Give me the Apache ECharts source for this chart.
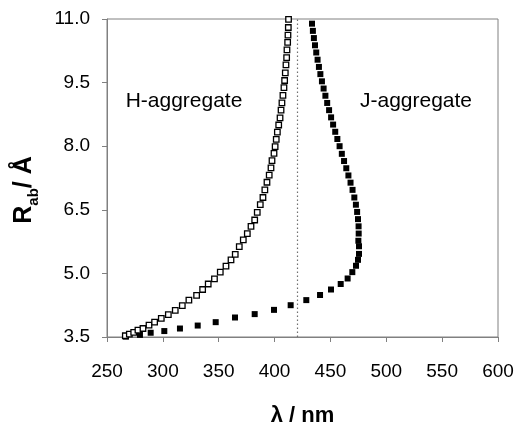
<!DOCTYPE html>
<html>
<head>
<meta charset="utf-8">
<script src="https://cdn.jsdelivr.net/npm/echarts@6/dist/echarts.min.js"></script>
<style>
html,body{margin:0;padding:0;background:#fff;}
#c{width:516px;height:426px;}
</style>
</head>
<body>
<div id="c"></div>
<script>
// H-aggregate (open squares)
var hLambda = [266.4,270.0,273.9,277.7,282.2,287.6,292.6,298.6,304.9,311.1,317.4,323.3,330.2,335.6,340.6,346.2,351.4,356.5,361.0,364.8,368.4,372.0,375.6,378.9,382.2,384.5,387.2,389.6,391.3,393.2,395.2,396.8,397.7,399.5,400.5,401.5,402.5,403.7,404.9,405.8,406.6,407.5,408.4,409.0,409.6,410.2,410.8,411.1,411.7,412.0,412.3,412.5];
var hR = [3.53,3.57,3.61,3.66,3.70,3.78,3.85,3.94,4.03,4.13,4.24,4.37,4.48,4.62,4.75,4.87,5.03,5.17,5.32,5.45,5.63,5.79,5.94,6.11,6.26,6.44,6.62,6.79,6.97,7.15,7.32,7.49,7.66,7.83,7.99,8.16,8.33,8.50,8.67,8.85,9.02,9.20,9.38,9.55,9.73,9.92,10.09,10.27,10.45,10.62,10.80,10.99];
// J-aggregate (filled squares)
var jLambda = [267.0,279.5,289.1,301.3,315.3,331.2,347.3,364.6,382.2,399.5,414.4,428.4,440.7,450.5,459.2,465.4,469.6,472.9,474.7,475.6,475.6,475.0,475.3,475.2,474.7,473.9,472.8,471.4,469.8,468.0,466.1,464.2,462.2,460.2,458.2,456.2,454.3,452.4,450.6,448.8,447.1,445.5,443.9,442.4,441.0,439.7,438.5,437.3,436.2,435.2,434.3,433.5];
var jR = [3.51,3.55,3.60,3.64,3.70,3.77,3.85,3.96,4.04,4.14,4.25,4.37,4.49,4.62,4.75,4.88,5.03,5.18,5.32,5.46,5.64,5.77,5.94,6.11,6.28,6.45,6.62,6.79,6.97,7.14,7.31,7.48,7.65,7.82,8.00,8.17,8.34,8.51,8.68,8.85,9.02,9.19,9.36,9.53,9.70,9.87,10.04,10.21,10.38,10.55,10.72,10.89];
var xTicks = [250,300,350,400,450,500,550,600];
var yTicks = [3.5,5.0,6.5,8.0,9.5,11.0];
var refLambda = 420;
var labelH = 'H-aggregate';
var labelJ = 'J-aggregate';

function zip(a,b){ return a.map(function(v,i){ return [v,b[i]]; }); }

var chart = echarts.init(document.getElementById('c'), null, {renderer:'canvas'});
var axisColor = '#808080';
var font = 'Arial, "Liberation Sans", sans-serif';
chart.setOption({
  animation:false,
  backgroundColor:'#fff',
  grid:{left:107, top:19, width:391, height:318, show:true, borderColor:axisColor, borderWidth:1,
    containLabel:false, outerBoundsMode:'none'},
  xAxis:{
    type:'value', min:xTicks[0], max:xTicks[xTicks.length-1], interval:50,
    axisLine:{show:true, onZero:false, lineStyle:{color:axisColor, width:1}},
    axisTick:{show:true, inside:false, length:5, lineStyle:{color:axisColor}},
    axisLabel:{color:'#000', fontFamily:font, fontSize:19, margin:25},
    splitLine:{show:false},
    name:'λ / nm', nameLocation:'middle', nameGap:68,
    nameTextStyle:{color:'#000', fontFamily:font, fontSize:22, fontWeight:'bold'}
  },
  yAxis:{
    type:'value', min:yTicks[0], max:yTicks[yTicks.length-1],
    axisLine:{show:true, onZero:false, lineStyle:{color:axisColor, width:1}},
    axisTick:{show:true, inside:false, length:5, lineStyle:{color:axisColor}, customValues:yTicks},
    axisLabel:{color:'#000', fontFamily:font, fontSize:19, margin:17, customValues:yTicks,
      formatter:function(v){ return Number(v).toFixed(1); }},
    splitLine:{show:false}
  },
  graphic:[
    {type:'text', x:184, y:101, style:{text:labelH, fill:'#000', font:'21px Arial, "Liberation Sans", sans-serif', align:'center', verticalAlign:'middle'}},
    {type:'text', x:416, y:101, style:{text:labelJ, fill:'#000', font:'21px Arial, "Liberation Sans", sans-serif', align:'center', verticalAlign:'middle'}},
    {type:'text', x:24, y:190, rotation:Math.PI/2,
      style:{text:'{r|R}{s|ab}{r|/ Å}', align:'center', verticalAlign:'middle',
        rich:{
          r:{fontFamily:font, fontSize:25, fontWeight:'bold', fill:'#000', verticalAlign:'bottom'},
          s:{fontFamily:font, fontSize:15, fontWeight:'bold', fill:'#000', verticalAlign:'bottom', padding:[0,0,-5,0]}
        }}}
  ],
  series:[
    {
      type:'scatter', name:labelJ, data:zip(jLambda,jR), symbol:'rect', symbolSize:6,
      itemStyle:{color:'#000', opacity:1}, clip:false,
      markLine:{silent:true, symbol:['none','none'], label:{show:false},
        lineStyle:{type:[1.5,2.5], color:'#707070', width:1.2},
        data:[{xAxis:refLambda}]}
    },
    {
      type:'scatter', name:labelH, data:zip(hLambda,hR), symbol:'rect', symbolSize:5.5,
      itemStyle:{color:'#fff', borderColor:'#000', borderWidth:1.3, opacity:1}, clip:false
    }
  ]
});
</script>
</body>
</html>
